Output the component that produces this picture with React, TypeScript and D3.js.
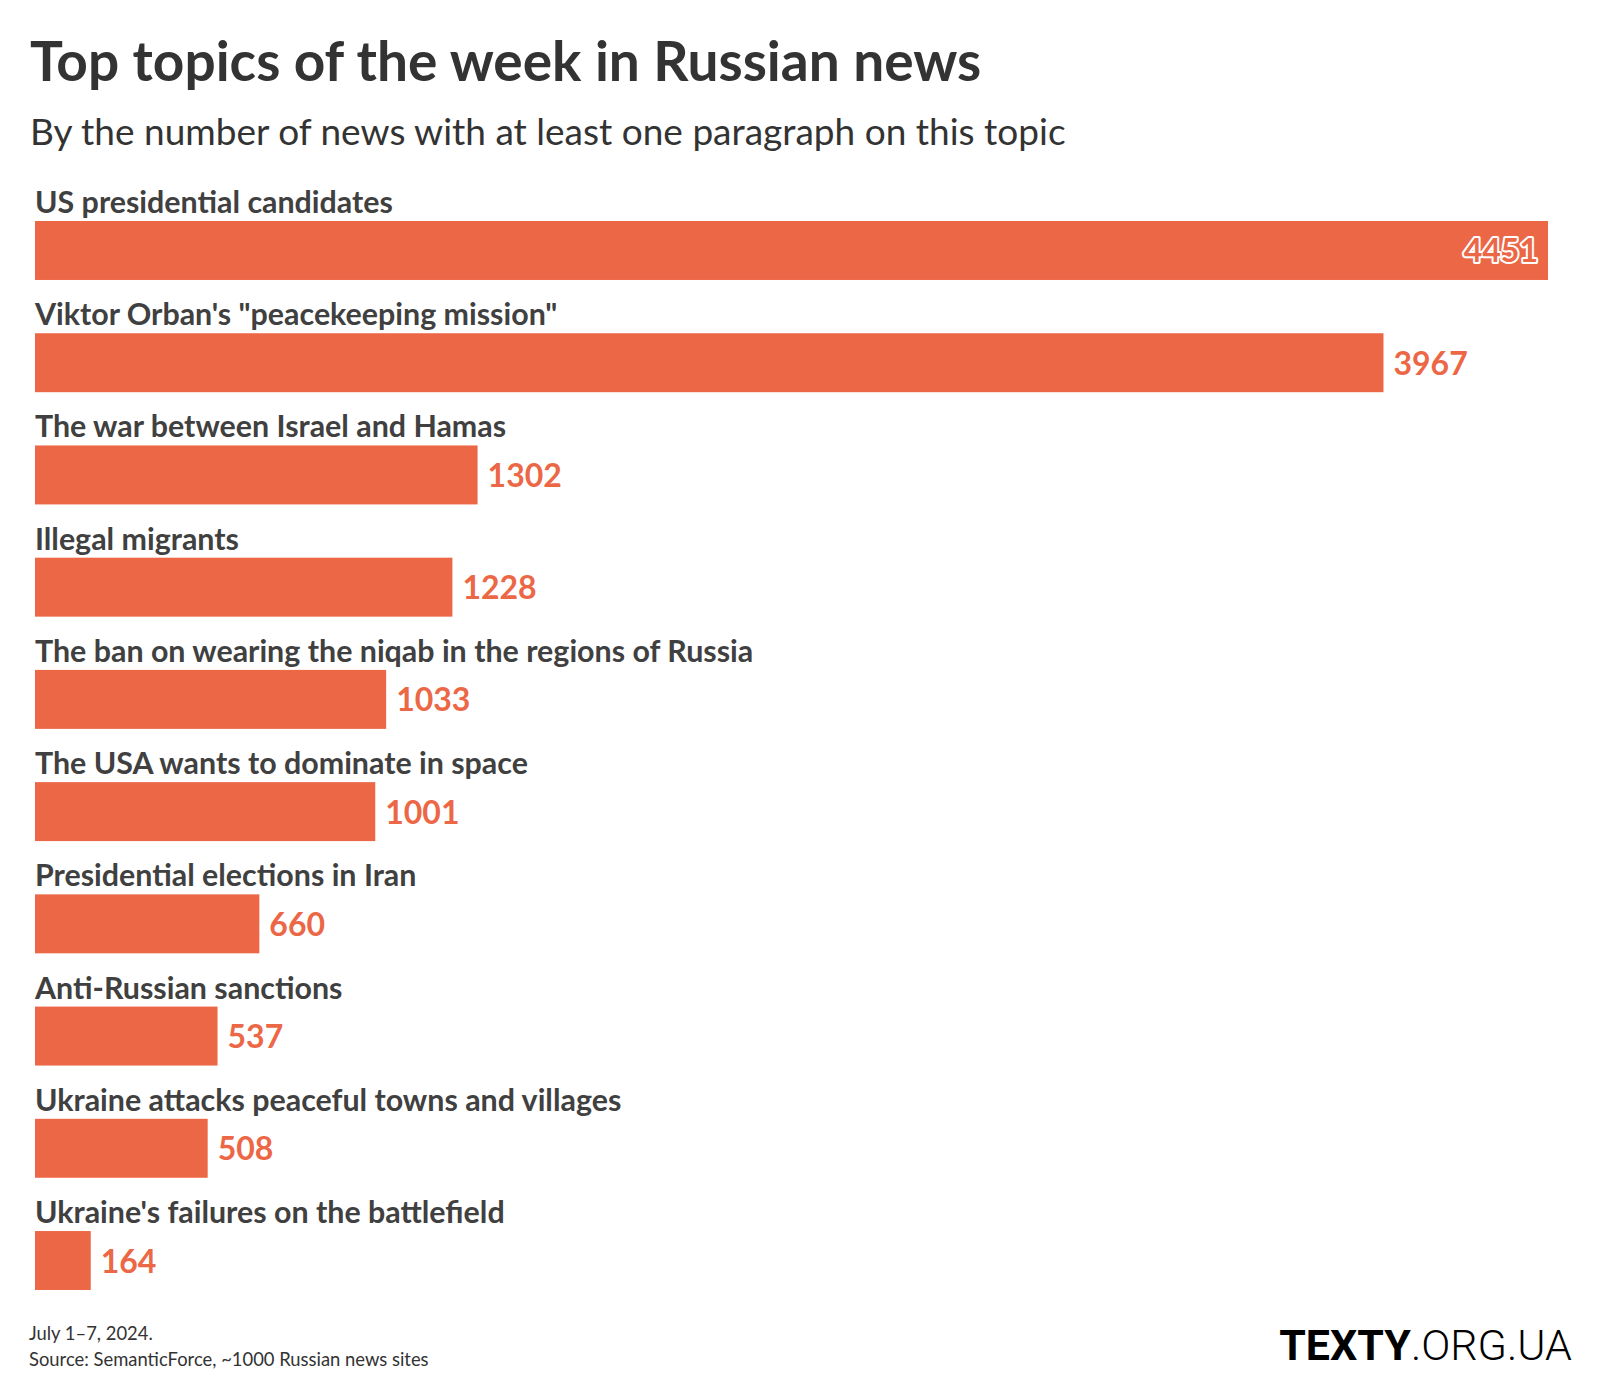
import * as d3 from "d3";

const topics = [
  "US presidential candidates",
  "Viktor Orban's \"peacekeeping mission\"",
  "The war between Israel and Hamas",
  "Illegal migrants",
  "The ban on wearing the niqab in the regions of Russia",
  "The USA wants to dominate in space",
  "Presidential elections in Iran",
  "Anti-Russian sanctions",
  "Ukraine attacks peaceful towns and villages",
  "Ukraine's failures on the battlefield",
];
const counts = [4451, 3967, 1302, 1228, 1033, 1001, 660, 537, 508, 164];

const title = "Top topics of the week in Russian news";
const subtitle = "By the number of news with at least one paragraph on this topic";
const footnotes = ["July 1–7, 2024.", "Source: SemanticForce, ~1000 Russian news sites"];

const W = 1600;
const H = 1400;
const barColor = "#ec6746";
const font = "Lato, 'Noto Sans', sans-serif";

export default function App() {
  const x = d3.scaleLinear().domain([0, d3.max(counts) as number]).range([35, 1548]);
  const y = d3
    .scaleBand()
    .domain(topics)
    .range([221, 1290])
    .paddingInner(0.4746)
    .paddingOuter(0);
  const bw = y.bandwidth();

  return (
    <svg
      width={W}
      height={H}
      style={{ position: "absolute", left: 0, top: 0, background: "#fff" }}
      fontFamily={font}
    >
      <text x={30} y={81} fontSize={55} fontWeight={700} fill="#333">
        {title}
      </text>
      <text x={30} y={145} fontSize={37} fontWeight={400} fill="#333">
        {subtitle}
      </text>

      {topics.map((t, i) => {
        const v = counts[i];
        const top = y(t) as number;
        const x1 = x(v);
        const inside = i === 0;
        return (
          <g key={t}>
            <text x={35} y={top - 8} fontSize={30.4} fontWeight={700} fill="#404040">
              {t}
            </text>
            <rect x={x(0)} y={top} width={x1 - x(0)} height={bw} fill={barColor} />
            {inside ? (
              <text
                x={x1 - 10}
                y={top + bw / 2 + 12}
                textAnchor="end"
                fontSize={32}
                fontWeight={700}
                fill={barColor}
                stroke="#fff"
                strokeWidth={4}
                strokeLinejoin="round"
                paintOrder="stroke"
              >
                {v}
              </text>
            ) : (
              <text
                x={x1 + 10}
                y={top + bw / 2 + 12}
                fontSize={32}
                fontWeight={700}
                fill={barColor}
              >
                {v}
              </text>
            )}
          </g>
        );
      })}

      {footnotes.map((f, i) => (
        <text key={f} x={29} y={1340 + i * 26} fontSize={18.4} fill="#333">
          {f}
        </text>
      ))}

      <text
        x={1572}
        y={1360}
        textAnchor="end"
        fontFamily="Roboto, sans-serif"
        fontSize={43}
        fill="#000"
      >
        <tspan fontWeight={700}>TEXTY</tspan>
        <tspan fontWeight={300}>.ORG.UA</tspan>
      </text>
    </svg>
  );
}
